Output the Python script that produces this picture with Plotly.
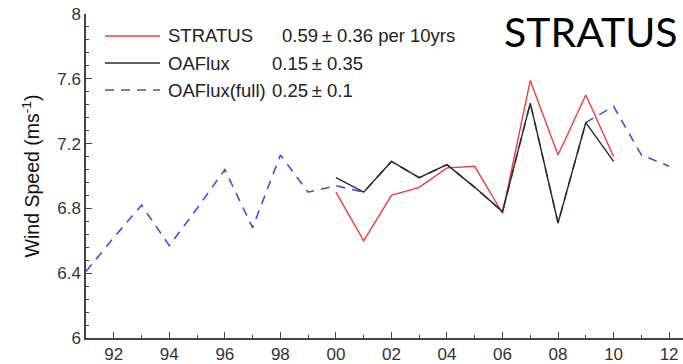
import plotly.graph_objects as go

# ---- data ----
years_full = list(range(1991, 2013))
oaflux_full = [6.41, 6.62, 6.82, 6.57, 6.80, 7.04, 6.68, 7.13, 6.90, 6.94, 6.90,
               7.09, 6.99, 7.07, 6.93, 6.78, 7.45, 6.71, 7.33, 7.43, 7.13, 7.06]
years_stratus = list(range(2000, 2011))
stratus = [6.90, 6.60, 6.88, 6.93, 7.05, 7.06, 6.77, 7.59, 7.13, 7.50, 7.12]
oaflux = [6.99, 6.90, 7.09, 6.99, 7.07, 6.93, 6.78, 7.45, 6.71, 7.33, 7.09]

xtick_vals = [1992, 1994, 1996, 1998, 2000, 2002, 2004, 2006, 2008, 2010, 2012]
xtick_text = ["92", "94", "96", "98", "00", "02", "04", "06", "08", "10", "12"]
ytick_vals = [6, 6.4, 6.8, 7.2, 7.6, 8]
ytick_text = ["6", "6.4", "6.8", "7.2", "7.6", "8"]

legend_names = ["STRATUS", "OAFlux", "OAFlux(full)"]
legend_values = ["0.59\u2009\u00b1 0.36 per 10yrs", "0.15\u2009\u00b1 0.35", "0.25\u2009\u00b1 0.1"]

RED = "#f03c3c"
BLACK = "#2a2a2a"
BLUE = "#4a4ae0"
AXIS = "#444444"
FONT = "Liberation Sans, Arial, sans-serif"

fig = go.Figure()
fig.add_trace(go.Scatter(x=years_full, y=oaflux_full, mode="lines",
                         line=dict(color=BLUE, width=1.6, dash="9px,7px"),
                         showlegend=False))
fig.add_trace(go.Scatter(x=years_stratus, y=stratus, mode="lines",
                         line=dict(color=RED, width=1.4), showlegend=False))
fig.add_trace(go.Scatter(x=years_stratus, y=oaflux, mode="lines",
                         line=dict(color=BLACK, width=1.4), showlegend=False))

# legend drawn manually (line samples + two text columns)
row_px = [36, 63, 90]
styles = [dict(color=RED, width=1.4), dict(color=BLACK, width=1.4),
          dict(color=BLUE, width=1.6, dash="9px,7px")]
for i in range(3):
    yy = (338 - row_px[i]) / 324
    fig.add_shape(type="line", xref="paper", yref="paper",
                  x0=(105 - 86) / 597, x1=(160 - 86) / 597, y0=yy, y1=yy,
                  line=styles[i])
    fig.add_annotation(xref="paper", yref="paper", x=(166 - 86) / 597, y=yy,
                       text=legend_names[i], showarrow=False, xanchor="left",
                       yanchor="middle", font=dict(family=FONT, size=18.5, color="#222"))
    fig.add_annotation(xref="paper", yref="paper",
                       x=((280 if i == 0 else 270) - 86) / 597, y=yy,
                       text=legend_values[i], showarrow=False, xanchor="left",
                       yanchor="middle", font=dict(family=FONT, size=18.5, color="#222"))

fig.add_annotation(xref="paper", yref="paper", x=(591 - 86) / 597, y=(338 - 31) / 324,
                   text="STRATUS", showarrow=False, xanchor="center", yanchor="middle",
                   font=dict(family="Lato, Open Sans, sans-serif", size=41, color="#000"))

fig.update_layout(
    width=683, height=364,
    margin=dict(l=86, r=0, t=14, b=26),
    paper_bgcolor="white", plot_bgcolor="white",
    font=dict(family=FONT, size=16, color="#333"),
)
fig.update_xaxes(range=[1991, 2012.5], tickvals=xtick_vals, ticktext=xtick_text,
                 ticks="inside", ticklen=6, tickcolor=AXIS, showgrid=False,
                 showline=True, linecolor=AXIS, linewidth=1.5, zeroline=False,
                 tickfont=dict(size=17, color="#333"),
                 minor=dict(dtick=1, tick0=1991, ticks="inside", ticklen=3, tickcolor=AXIS))
fig.update_yaxes(range=[6, 8], tickvals=ytick_vals, ticktext=ytick_text,
                 ticks="inside", ticklen=6, tickcolor=AXIS, showgrid=False,
                 showline=True, linecolor=AXIS, linewidth=1.5, zeroline=False,
                 tickfont=dict(size=17, color="#333"),
                 minor=dict(dtick=0.08, tick0=6, ticks="inside", ticklen=3, tickcolor=AXIS),
                 title=dict(text="Wind Speed (ms<sup>-1</sup>)", standoff=12,
                            font=dict(size=19.5, color="#111")))

fig.write_html("out.html")
